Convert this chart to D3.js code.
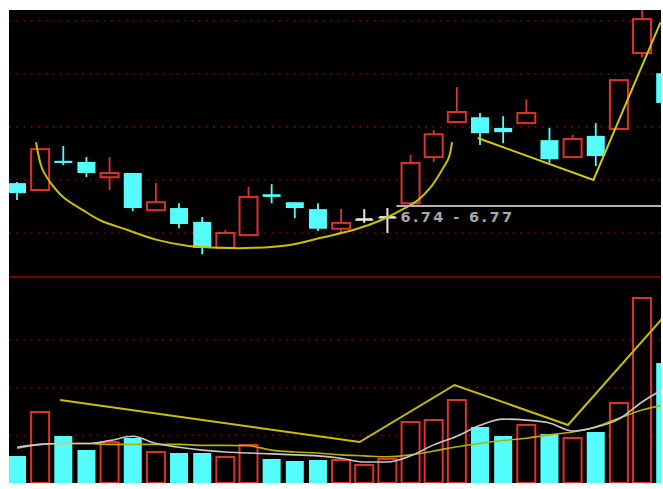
<!DOCTYPE html>
<html>
<head>
<meta charset="utf-8">
<script src="https://cdn.jsdelivr.net/npm/d3@7"></script>
<style>
  body { margin: 0; background: #fff; }
  svg { display: block; }
</style>
</head>
<body>
<div id="chart"></div>
<script>
// K线数据 (开, 高, 低, 收)
var opens  = [6.794, 6.781, 6.836, 6.834, 6.805, 6.813, 6.743, 6.747, 6.721, 6.672, 6.696, 6.773, 6.758, 6.745, 6.708,
              6.726, 6.730, 6.756, 6.843, 6.909, 6.918, 6.898, 6.907, 6.875, 6.843, 6.883, 6.896, 7.039, 7.001];
var highs  = [6.796, 6.860, 6.864, 6.843, 6.843, 6.813, 6.794, 6.756, 6.730, 6.706, 6.787, 6.792, 6.758, 6.756, 6.745,
              6.745, 6.747, 6.847, 6.894, 6.975, 6.926, 6.920, 6.952, 6.898, 6.885, 6.907, 6.988, 7.130, 7.001];
var lows   = [6.762, 6.781, 6.828, 6.805, 6.781, 6.741, 6.743, 6.709, 6.660, 6.672, 6.696, 6.756, 6.728, 6.704, 6.700,
              6.719, 6.700, 6.756, 6.834, 6.909, 6.866, 6.869, 6.907, 6.832, 6.843, 6.826, 6.896, 7.031, 6.945];
var closes = [6.775, 6.858, 6.832, 6.813, 6.813, 6.747, 6.758, 6.717, 6.672, 6.700, 6.768, 6.768, 6.747, 6.708, 6.719,
              6.726, 6.730, 6.832, 6.886, 6.928, 6.888, 6.890, 6.926, 6.839, 6.877, 6.845, 6.988, 7.103, 6.945];

// 成交量及其均线
var volumes = [5665, 14896, 9860, 6923, 8601, 9441, 6503, 6294, 6294, 5455, 7972, 5035, 4615, 4825, 4825,
               3776, 5035, 12797, 13217, 17413, 11748, 9860, 12168, 10280, 9441, 10699, 16783, 38811, 25175];
var volMa5  = [7500, 8100, 8300, 8300, 8900, 9800, 8300, 7500, 6900, 6500, 6300, 6100, 5900, 5700, 5200,
               4400, 4400, 5700, 8000, 9800, 12100, 13400, 13200, 12600, 10900, 11700, 13400, 17000, 19900];
var volMa10 = [7300, 8100, 8300, 8300, 8100, 8100, 8100, 8100, 7900, 7900, 7800, 6900, 6500, 6300, 5900,
               5700, 5500, 5900, 6700, 7600, 8300, 8900, 9400, 10100, 10700, 11800, 13600, 15300, 16400];

// 价格网格线 与 成交量网格线
var priceTicks = [6.70, 6.80, 6.90, 7.00, 7.10];
var volTicks = [10000, 20000, 30000];

// 手绘标注: 圆弧底 (序号, 价格)
var arcIdx   = [0.82, 1.08, 1.43, 1.99, 2.85, 3.59, 4.75, 6.05, 7.34, 8.81, 10.24, 11.71, 13.13, 14.56, 15.72, 16.59, 17.32, 17.88, 18.36, 18.66, 18.79];
var arcPrice = [6.871, 6.822, 6.796, 6.768, 6.743, 6.724, 6.706, 6.687, 6.676, 6.672, 6.672, 6.677, 6.691, 6.706, 6.724, 6.743, 6.762, 6.787, 6.819, 6.843, 6.871];
// 右侧趋势线
var trendIdx   = [19.9, 24.9, 27.8];
var trendPrice = [6.879, 6.800, 7.097];
// 成交量折线
var volLineIdx = [1.86, 14.8, 18.9, 23.8, 27.9];
var volLineVal = [17413, 8601, 20560, 12168, 34617];

// 十字光标
var cursorIdx = 16;
var cursorPrice = 6.751;
var cursorLabel = "6.74 - 6.77";

var W = 663, H = 489;
var pLeft = 9, pRight = 661, pTop = 10, pBottom = 483, split = 277;
var candleW = 18;

var red = "#e0302c", cyan = "#55fcfc", gridRed = "#850000";

var svg = d3.select("#chart").append("svg")
  .attr("width", W)
  .attr("height", H);

svg.append("rect")
  .attr("x", pLeft).attr("y", pTop)
  .attr("width", pRight - pLeft).attr("height", pBottom - pTop)
  .attr("fill", "#000");

var defs = svg.append("defs");
defs.append("clipPath").attr("id", "clipTop").append("rect")
  .attr("x", pLeft).attr("y", pTop).attr("width", pRight - pLeft).attr("height", split - pTop);
defs.append("clipPath").attr("id", "clipBottom").append("rect")
  .attr("x", pLeft).attr("y", split + 1).attr("width", pRight - pLeft).attr("height", pBottom - split - 1);

var x = d3.scaleLinear().domain([0, 28]).range([17, 665.2]);
var yPrice = d3.scaleLinear().domain([6.70, 7.10]).range([233, 20.7]);
var yVol = d3.scaleLinear().domain([0, 30000]).range([pBottom, 340]);

var gTop = svg.append("g").attr("clip-path", "url(#clipTop)");
var gBot = svg.append("g").attr("clip-path", "url(#clipBottom)");

// 网格线
gTop.selectAll(".pgrid").data(priceTicks).enter().append("line")
  .attr("x1", pLeft).attr("x2", pRight)
  .attr("y1", function(d) { return yPrice(d); })
  .attr("y2", function(d) { return yPrice(d); })
  .attr("stroke", gridRed).attr("stroke-width", 1.6)
  .attr("stroke-dasharray", "1.6,5.7");

gBot.selectAll(".vgrid").data(volTicks).enter().append("line")
  .attr("x1", pLeft).attr("x2", pRight)
  .attr("y1", function(d) { return yVol(d); })
  .attr("y2", function(d) { return yVol(d); })
  .attr("stroke", gridRed).attr("stroke-width", 1.6)
  .attr("stroke-dasharray", "1.6,5.7");

// 分隔线
svg.append("line")
  .attr("x1", pLeft).attr("x2", pRight)
  .attr("y1", split).attr("y2", split)
  .attr("stroke", "#7a0000").attr("stroke-width", 2);

var candles = d3.range(opens.length).map(function(i) {
  return { i: i, o: opens[i], h: highs[i], l: lows[i], c: closes[i], v: volumes[i] };
});

function candleColor(d) {
  if (d.c > d.o) return red;
  if (d.c < d.o) return cyan;
  return "#e8e8e8";
}

// 影线
gTop.selectAll(".wick").data(candles).enter().append("line")
  .attr("x1", function(d) { return x(d.i); })
  .attr("x2", function(d) { return x(d.i); })
  .attr("y1", function(d) { return yPrice(d.h); })
  .attr("y2", function(d) { return yPrice(d.l); })
  .attr("stroke", candleColor)
  .attr("stroke-width", function(d) { return d.c == d.o ? 2 : 1.8; });

// 实体
gTop.selectAll(".body").data(candles).enter().append("rect")
  .attr("x", function(d) { return x(d.i) - candleW / 2; })
  .attr("y", function(d) { return yPrice(Math.max(d.o, d.c)); })
  .attr("width", candleW)
  .attr("height", function(d) { return Math.max(1.5, yPrice(Math.min(d.o, d.c)) - yPrice(Math.max(d.o, d.c))); })
  .attr("fill", function(d) { return d.c > d.o ? "#000" : candleColor(d); })
  .attr("stroke", candleColor)
  .attr("stroke-width", function(d) { return d.c > d.o ? 2 : 0; });

// 十字星 横线
gTop.selectAll(".doji").data(candles.filter(function(d) { return d.c == d.o; })).enter().append("line")
  .attr("x1", function(d) { return x(d.i) - 8; })
  .attr("x2", function(d) { return x(d.i) + 8; })
  .attr("y1", function(d) { return yPrice(d.c); })
  .attr("y2", function(d) { return yPrice(d.c); })
  .attr("stroke", "#e8e8e8").attr("stroke-width", 2);

var curve = d3.line()
  .x(function(d) { return x(d[0]); })
  .y(function(d) { return yPrice(d[1]); })
  .curve(d3.curveCatmullRom);

gTop.append("path")
  .datum(arcIdx.map(function(v, i) { return [v, arcPrice[i]]; }))
  .attr("d", curve)
  .attr("fill", "none").attr("stroke", "#c8c000").attr("stroke-width", 2);

gTop.append("path")
  .datum(trendIdx.map(function(v, i) { return [v, trendPrice[i]]; }))
  .attr("d", d3.line().x(function(d) { return x(d[0]); }).y(function(d) { return yPrice(d[1]); }))
  .attr("fill", "none").attr("stroke", "#d4cc00").attr("stroke-width", 2);

// 十字光标
gTop.append("line")
  .attr("x1", x(cursorIdx) + 9).attr("x2", pRight)
  .attr("y1", yPrice(cursorPrice)).attr("y2", yPrice(cursorPrice))
  .attr("stroke", "#b4b4b4").attr("stroke-width", 2);

gTop.append("text")
  .attr("x", x(cursorIdx) + 13)
  .attr("y", yPrice(cursorPrice) + 16)
  .attr("fill", "#a8a8a8")
  .attr("font-family", "DejaVu Sans, sans-serif")
  .attr("font-size", 14.5)
  .attr("font-weight", "bold")
  .attr("letter-spacing", 2.4)
  .text(cursorLabel);

// 成交量柱
gBot.selectAll(".vol").data(candles).enter().append("rect")
  .attr("x", function(d) { return x(d.i) - candleW / 2; })
  .attr("y", function(d) { return yVol(d.v); })
  .attr("width", candleW)
  .attr("height", function(d) { return pBottom - yVol(d.v); })
  .attr("fill", function(d) { return d.c < d.o ? cyan : "#000"; })
  .attr("stroke", function(d) { return d.c < d.o ? "none" : red; })
  .attr("stroke-width", 2);

var volLine = d3.line()
  .x(function(d) { return x(d[0]); })
  .y(function(d) { return yVol(d[1]); });

gBot.append("path")
  .datum(volMa10.map(function(v, i) { return [i, v]; }))
  .attr("d", volLine.curve(d3.curveMonotoneX))
  .attr("fill", "none").attr("stroke", "#b8b000").attr("stroke-width", 1.6);

gBot.append("path")
  .datum(volMa5.map(function(v, i) { return [i, v]; }))
  .attr("d", volLine.curve(d3.curveMonotoneX))
  .attr("fill", "none").attr("stroke", "#c8c8c8").attr("stroke-width", 1.6);

gBot.append("path")
  .datum(volLineIdx.map(function(v, i) { return [v, volLineVal[i]]; }))
  .attr("d", volLine.curve(d3.curveLinear))
  .attr("fill", "none").attr("stroke", "#c8c000").attr("stroke-width", 2);
</script>
</body>
</html>
